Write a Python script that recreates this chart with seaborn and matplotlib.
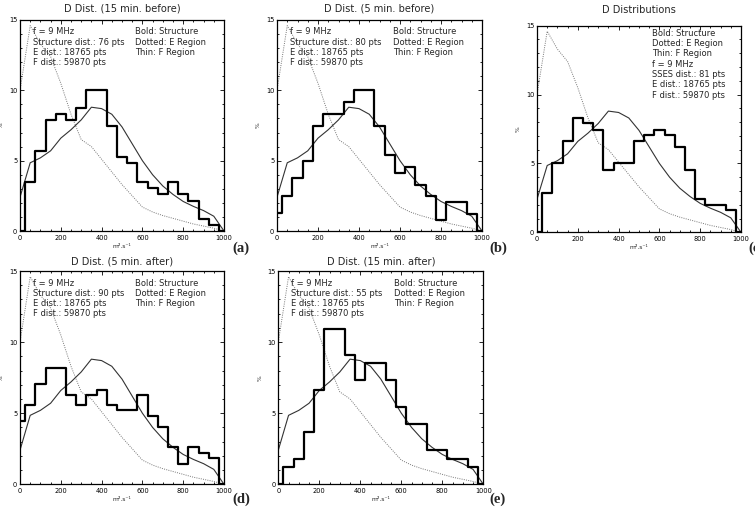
"""
Diffusion coefficient distributions around the structure (panels a-e).
"""
import matplotlib.pyplot as plt
import numpy as np
import seaborn as sns
from matplotlib.ticker import MultipleLocator

# bin centres (m2.s-1)
d_centers = [0, 50, 100, 150, 200, 250, 300, 350, 400, 450, 500,
             550, 600, 650, 700, 750, 800, 850, 900, 950, 1000]

# reference distributions, same in every panel
e_region = [10.0, 14.6, 13.3, 12.4, 10.5, 8.3, 6.5, 6.0, 5.1, 4.2, 3.3,
            2.5, 1.7, 1.35, 1.1, 0.9, 0.7, 0.5, 0.35, 0.2, 0.0]
f_region = [2.4, 4.85, 5.2, 5.7, 6.6, 7.2, 7.9, 8.8, 8.7, 8.3, 7.4,
            6.2, 5.0, 4.0, 3.2, 2.6, 2.1, 1.75, 1.45, 1.05, 0.0]

# structure distributions
struct_15_before = [0, 3.45, 5.7, 7.9, 8.3, 7.9, 8.75, 10.05, 10.05, 7.45, 5.25,
                    4.8, 3.45, 3.05, 2.6, 3.45, 2.6, 2.15, 0.85, 0.4, 0]
struct_5_before = [1.25, 2.5, 3.75, 5.0, 7.5, 8.3, 8.3, 9.15, 10.0, 10.0, 7.5,
                   5.4, 4.15, 4.55, 3.3, 2.5, 0.8, 2.05, 2.05, 1.2, 0]
struct_sses = [0, 2.85, 5.0, 6.65, 8.3, 7.9, 7.45, 4.55, 5.0, 5.0, 6.65,
               7.05, 7.45, 7.05, 6.2, 4.55, 2.45, 2.0, 2.0, 1.6, 0]
struct_5_after = [4.45, 5.55, 7.05, 8.15, 8.15, 6.25, 5.55, 6.25, 6.65, 5.55, 5.2,
                  5.2, 6.25, 4.8, 4.05, 2.6, 1.45, 2.6, 2.2, 1.85, 0]
struct_15_after = [0, 1.2, 1.8, 3.65, 6.65, 10.9, 10.9, 9.1, 7.3, 8.5, 8.5,
                   7.3, 5.45, 4.25, 4.25, 2.4, 2.4, 1.8, 1.8, 1.2, 0]

titles = ["D Dist. (15 min. before)", "D Dist. (5 min. before)", "D Distributions",
          "D Dist. (5 min. after)", "D Dist. (15 min. after)"]
n_points = ["76", "80", "81", "90", "55"]
panel_tags = ["(a)", "(b)", "(c)", "(d)", "(e)"]

W, H = 755, 517
# left, top, right, bottom in pixels
boxes = [(20, 20, 224, 231), (277, 20, 482, 231), (537, 25.7, 741, 232.3),
         (20, 271, 224, 484.3), (278.3, 271, 483.3, 484.3)]
title_gap = [11.7, 11.7, 15.7, 10, 10]
tag_x = [232, 489, 748, 232, 489]
tag_y = [248, 248, 248, 499, 499]

sns.set_style("ticks")
plt.rcParams["font.family"] = ["DejaVu Sans"]
plt.rcParams.update({
    "xtick.direction": "in", "ytick.direction": "in",
    "xtick.top": True, "ytick.right": True,
    "xtick.major.size": 3, "ytick.major.size": 3,
    "xtick.minor.size": 1.5, "ytick.minor.size": 1.5,
    "xtick.major.width": 0.6, "ytick.major.width": 0.6,
    "xtick.minor.width": 0.6, "ytick.minor.width": 0.6,
    "xtick.color": "black", "ytick.color": "black",
    "axes.edgecolor": "black", "axes.linewidth": 0.9,
})

fig = plt.figure(figsize=(W / 100, H / 100), dpi=100)

structures = [struct_15_before, struct_5_before, struct_sses,
              struct_5_after, struct_15_after]

for i, (left, top, right, bottom) in enumerate(boxes):
    ax = fig.add_axes([left / W, 1 - bottom / H, (right - left) / W, (bottom - top) / H])
    h_px = bottom - top

    sns.lineplot(x=d_centers, y=e_region, ax=ax, color="#777777", lw=0.7,
                 linestyle=(0, (1, 1.3)), sort=False)
    sns.lineplot(x=d_centers, y=f_region, ax=ax, color="#333333", lw=0.8, sort=False)
    sns.lineplot(x=d_centers, y=structures[i], ax=ax, color="black", lw=1.6,
                 drawstyle="steps-mid", sort=False)

    ax.set_xlim(0, 1000)
    ax.set_ylim(0, 15)
    ax.xaxis.set_major_locator(MultipleLocator(200))
    ax.xaxis.set_minor_locator(MultipleLocator(50))
    ax.yaxis.set_major_locator(MultipleLocator(5))
    ax.yaxis.set_minor_locator(MultipleLocator(1))
    ax.tick_params(axis="x", which="both", labelsize=4.8, pad=3)
    ax.tick_params(axis="y", which="both", labelsize=4.8, pad=2)
    ax.set_xlabel("m².s⁻¹", fontsize=4.3, labelpad=2)
    ax.set_ylabel("%", fontsize=4.3, rotation=90)
    ax.yaxis.set_label_coords(-16 / (right - left), 0.5)

    ax.text(0.5, 1 + title_gap[i] / h_px, titles[i], transform=ax.transAxes,
            ha="center", va="center", fontsize=7.1)

    step = 10.3 / h_px
    if i == 2:
        lines = ["Bold: Structure", "Dotted: E Region", "Thin: F Region",
                 "f = 9 MHz", "SSES dist.: 81 pts", "E dist.: 18765 pts",
                 "F dist.: 59870 pts"]
        y0 = 1 - 7.6 / h_px
        for k, txt in enumerate(lines):
            ax.text(0.562, y0 - k * step, txt, transform=ax.transAxes,
                    ha="left", va="center", fontsize=6)
    else:
        left_lines = ["f = 9 MHz", f"Structure dist.: {n_points[i]} pts",
                      "E dist.: 18765 pts", "F dist.: 59870 pts"]
        right_lines = ["Bold: Structure", "Dotted: E Region", "Thin: F Region"]
        y0 = 1 - 12 / h_px
        for k, txt in enumerate(left_lines):
            ax.text(0.064, y0 - k * step, txt, transform=ax.transAxes,
                    ha="left", va="center", fontsize=6)
        for k, txt in enumerate(right_lines):
            ax.text(0.564, y0 - k * step, txt, transform=ax.transAxes,
                    ha="left", va="center", fontsize=6)

    fig.text(tag_x[i] / W, 1 - tag_y[i] / H, panel_tags[i], ha="left", va="center",
             fontsize=10.5, fontweight="bold", family="Liberation Serif")

fig.savefig("out.png", dpi=100)
